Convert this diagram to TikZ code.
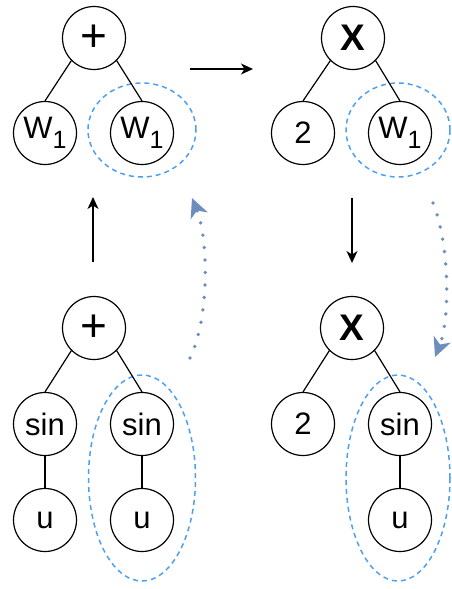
\documentclass[tikz,border=0pt]{standalone}
\usepackage{fontspec}
\setmainfont{Liberation Sans}
\usepackage{tikz}
\usetikzlibrary{arrows.meta,shapes.geometric,positioning}
\definecolor{grpblue}{RGB}{77,160,240}
\definecolor{moveblue}{HTML}{6C8EBF}
\tikzset{
  every picture/.style={line width=1.2pt},
  tnode/.style={circle, draw, minimum size=63pt, inner sep=0pt,
                font=\fontsize{31}{34}\selectfont},
  topnode/.style={tnode, font=\fontsize{37}{38}\selectfont\bfseries},
  plusnode/.style={tnode, font=\fontsize{46}{46}\selectfont},
  tgroup/.style={ellipse, draw=grpblue, dash pattern=on 5pt off 4pt,
                 line width=1.5pt, inner sep=0pt},
  tstep/.style={-{Stealth[length=12pt,width=11pt,inset=3.5pt]}},
  tmove/.style={moveblue, line width=3.8pt, line cap=round,
                dash pattern=on 0pt off 12.5pt,  % round dots
                -{Stealth[length=19pt,width=18pt,inset=5.5pt]}},
}
\newcommand{\wone}{W\raisebox{-10pt}{\fontsize{25}{25}\selectfont 1}}

\begin{document}
\begin{tikzpicture}[x=1pt,y=-1pt]
\useasboundingbox (0,0) rectangle (451,589);
% subtree groups
\node[tgroup, minimum width=108pt, minimum height=94pt] (gTL) at (142,130) {};
\node[tgroup, minimum width=104pt, minimum height=94pt] (gTR) at (398,130) {};
\node[tgroup, minimum width=107pt, minimum height=206pt] (gBL) at (142,478) {};
\node[tgroup, minimum width=104pt, minimum height=206pt] (gBR) at (398,478) {};
% top left: w + w
\node[plusnode] (pTL) at (94,38) {+};
\node[tnode] (wTLa) at (45,133) {\wone};
\node[tnode] (wTLb) at (142,133) {\wone};
\draw (pTL.225) -- (wTLa.north);
\draw (pTL.-45) -- (wTLb.north);
% top right: 2 x w
\node[topnode] (xTR) at (353,38) {X};
\node[tnode] (nTR) at (303,133) {2};
\node[tnode] (wTR) at (400,133) {\wone};
\draw (xTR.225) -- (nTR.north);
\draw (xTR.-45) -- (wTR.north);
% bottom left: sin u + sin u
\node[plusnode] (pBL) at (94,328) {+};
\node[tnode] (sBLa) at (45,424) {sin};
\node[tnode] (sBLb) at (142,424) {sin};
\node[tnode] (uBLa) at (45,520) {u};
\node[tnode] (uBLb) at (142,520) {u};
\draw (pBL.225) -- (sBLa.north);
\draw (pBL.-45) -- (sBLb.north);
\draw (sBLa) -- (uBLa);
\draw (sBLb) -- (uBLb);
% bottom right: 2 x sin u
\node[topnode] (xBR) at (352,328) {X};
\node[tnode] (nBR) at (303,424) {2};
\node[tnode] (sBR) at (400,424) {sin};
\node[tnode] (uBR) at (400,520) {u};
\draw (xBR.225) -- (nBR.north);
\draw (xBR.-45) -- (sBR.north);
\draw (sBR) -- (uBR);
% rewrite steps
\coordinate (rA) at (190,69);
\coordinate (rB) at (253,69);
\coordinate (uA) at (93,262);
\coordinate (uB) at (93,197);
\coordinate (dA) at (352,198);
\coordinate (dB) at (352,263);
\draw[tstep] (rA) -- (rB);
\draw[tstep] (uA) -- (uB);
\draw[tstep] (dA) -- (dB);
% where the subtree goes
\coordinate (mLa) at (190,358);
\coordinate (mLb) at (192,198);
\coordinate (mRa) at (433,203);
\coordinate (mRb) at (435,357);
\draw[tmove] (mLa) .. controls (209,320) and (209,240) .. (mLb);
\draw[tmove] (mRa) .. controls (450,245) and (450,320) .. (mRb);
\end{tikzpicture}
\end{document}
